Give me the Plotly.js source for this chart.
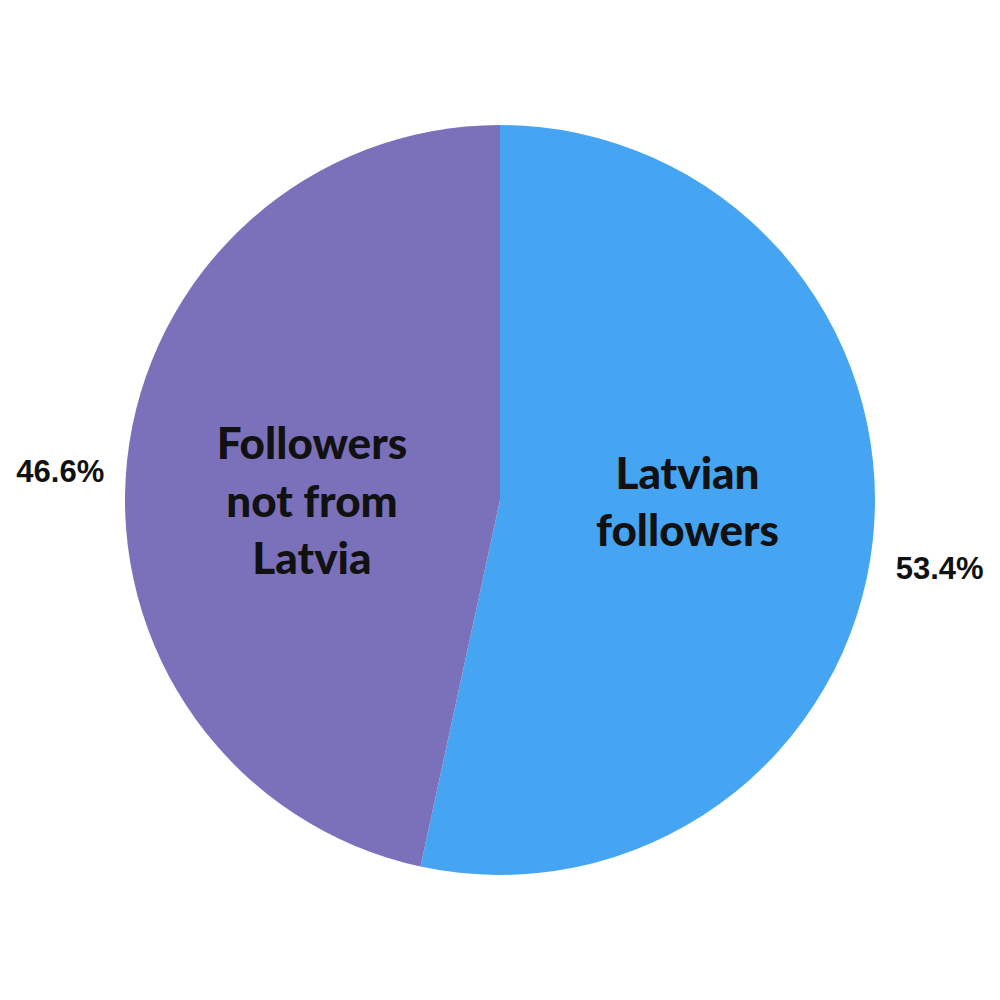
<!DOCTYPE html>
<html>
<head>
<meta charset="utf-8">
<script src="https://cdn.plot.ly/plotly-3.0.1.min.js"></script>
<style>
  body { margin: 0; background: #fff; }
  #chart { width: 1000px; height: 1000px; }
</style>
</head>
<body>
<div id="chart"></div>
<script>
// slices go clockwise from 12 o'clock
var labels = ['Latvian<br>followers', 'Followers<br>not from<br>Latvia'];
var shares = [53.4, 46.6];
var colors = ['#45A5F3', '#7B70BA'];

var clear = ['rgba(0,0,0,0)', 'rgba(0,0,0,0)'];

function basePie(extra) {
  var t = {
    type: 'pie',
    values: shares,
    labels: labels,
    sort: false,
    direction: 'clockwise',
    rotation: 0,
    domain: {x: [0.125, 0.875], y: [0.125, 0.875]},
    hoverinfo: 'none',
    showlegend: false
  };
  for (var k in extra) t[k] = extra[k];
  return t;
}

// coloured slices
var slices = basePie({
  marker: {colors: colors, line: {width: 0}},
  textinfo: 'none'
});

// names, turned so they sit level with the centre like the original
var names = basePie({
  rotation: -6,
  marker: {colors: clear, line: {width: 0}},
  textinfo: 'label',
  textposition: 'inside',
  insidetextorientation: 'horizontal',
  textfont: {family: 'Lato', size: 44, color: '#111', weight: 900}
});

// percentages outside (slightly bigger and lower, as in the original)
var pcts = basePie({
  rotation: 1,
  domain: {x: [0.11, 0.89], y: [0.09, 0.87]},
  marker: {colors: clear, line: {width: 0}},
  texttemplate: '%{percent:.1%}',
  textposition: 'outside',
  automargin: false,
  textfont: {family: 'Liberation Sans', size: 31, color: '#111', weight: 'bold'}
});

var layout = {
  width: 1000,
  height: 1000,
  margin: {l: 0, r: 0, t: 0, b: 0},
  paper_bgcolor: '#fff',
  showlegend: false
};

Plotly.newPlot('chart', [slices, names, pcts], layout, {displayModeBar: false, staticPlot: true});
</script>
</body>
</html>
